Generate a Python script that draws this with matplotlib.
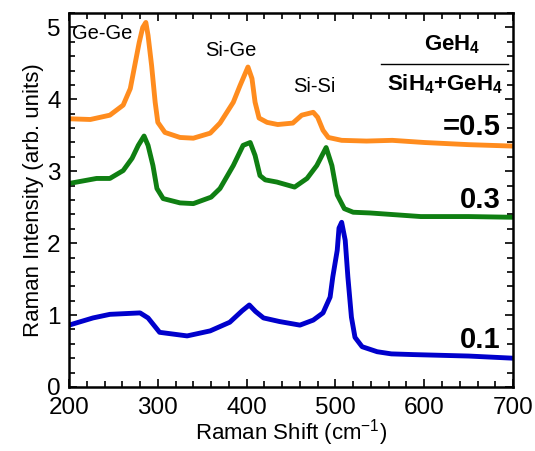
import numpy as np
import matplotlib
matplotlib.use("Agg")
import matplotlib.pyplot as plt
from matplotlib.ticker import MultipleLocator

plt.rcParams['font.family'] = ['Liberation Sans', 'DejaVu Sans']
plt.rcParams['mathtext.fontset'] = 'custom'
plt.rcParams['mathtext.rm'] = 'Liberation Sans'
plt.rcParams['mathtext.bf'] = 'Liberation Sans:bold'

# spectra (Raman shift in cm-1, intensity in arb. units)
shift_05 = [200, 224, 246, 261, 269, 274, 279, 283, 286.5, 289, 293, 297, 300, 308, 325, 340,
            359, 370, 385, 392.5, 401.5, 406, 409.5, 414, 423, 435, 452, 462, 475, 480, 486,
            492, 507, 535, 564, 600, 650, 700]
int_05 = [3.73, 3.72, 3.78, 3.92, 4.15, 4.47, 4.79, 5.00, 5.07, 4.89, 4.47, 3.96, 3.68, 3.54, 3.47, 3.46,
          3.53, 3.67, 3.96, 4.19, 4.45, 4.29, 3.96, 3.74, 3.68, 3.65, 3.67, 3.78, 3.82, 3.75, 3.57,
          3.47, 3.43, 3.42, 3.43, 3.40, 3.37, 3.35]

shift_03 = [200, 231, 246, 261, 271, 278, 284.5, 289, 294.5, 299, 306, 325, 340, 360, 370,
            385, 396, 404, 409.5, 415, 421, 434, 454, 468, 479, 489.5, 496, 502, 510, 520,
            539, 596, 650, 700]
int_03 = [2.83, 2.90, 2.90, 3.01, 3.18, 3.36, 3.49, 3.36, 3.08, 2.76, 2.62, 2.56, 2.55, 2.64, 2.76,
          3.08, 3.36, 3.40, 3.22, 2.94, 2.88, 2.85, 2.78, 2.90, 3.08, 3.33, 3.08, 2.67, 2.48, 2.43,
          2.42, 2.37, 2.37, 2.36]

shift_01 = [200, 227, 246, 280, 289, 302, 333, 359, 381, 395, 403, 410, 419, 437, 460, 475,
            486, 494, 497, 502, 504, 507, 511, 514, 518, 522, 530, 547, 563, 588, 650, 700]
int_01 = [0.86, 0.96, 1.01, 1.03, 0.96, 0.76, 0.71, 0.78, 0.90, 1.06, 1.14, 1.05, 0.96, 0.91, 0.86, 0.93,
          1.03, 1.25, 1.53, 1.90, 2.21, 2.29, 2.04, 1.53, 0.97, 0.69, 0.56, 0.49, 0.46, 0.45, 0.43, 0.40]

fig = plt.figure(figsize=(5.35, 4.51), dpi=100)
ax = fig.add_axes([0.129, 0.142, 0.830, 0.829])

ax.plot(shift_05, int_05, color='#FF8C1E', lw=3.5)
ax.plot(shift_03, int_03, color='#0F7F12', lw=3.5)
ax.plot(shift_01, int_01, color='#0000CC', lw=3.5)

ax.set_xlim(200, 700)
ax.set_ylim(0, 5.2)
ax.xaxis.set_major_locator(MultipleLocator(100))
ax.xaxis.set_minor_locator(MultipleLocator(20))
ax.yaxis.set_major_locator(MultipleLocator(1))
ax.yaxis.set_minor_locator(MultipleLocator(0.2))
ax.tick_params(which='both', direction='in', top=True, right=True, labelsize=17.5, width=1.2)
ax.tick_params(which='major', length=6)
ax.tick_params(which='minor', length=4)
ax.tick_params(axis='x', pad=7)
ax.tick_params(axis='y', pad=6)
for s in ax.spines.values():
    s.set_linewidth(1.8)

ax.set_xlabel('Raman Shift (cm$^{-1}$)', fontsize=16, labelpad=-1)
ax.set_ylabel('Raman Intensity (arb. units)', fontsize=16, labelpad=2)

# peak labels
ax.text(203, 4.92, 'Ge-Ge', fontsize=14.5, ha='left', va='center')
ax.text(382, 4.68, 'Si-Ge', fontsize=14.5, ha='center', va='center')
ax.text(476, 4.18, 'Si-Si', fontsize=14.5, ha='center', va='center')

# gas ratio
ax.text(631, 4.76, r'$\mathbf{GeH_4}$', fontsize=16, ha='center', va='center')
ax.plot([551, 694], [4.49, 4.49], color='black', lw=1)
ax.text(623, 4.21, r'$\mathbf{SiH_4{+}GeH_4}$', fontsize=16, ha='center', va='center')
ax.text(686, 3.61, '=0.5', fontsize=21, fontweight='bold', ha='right', va='center')
ax.text(686, 2.60, '0.3', fontsize=21, fontweight='bold', ha='right', va='center')
ax.text(686, 0.65, '0.1', fontsize=21, fontweight='bold', ha='right', va='center')

fig.savefig('out.png', dpi=100)
